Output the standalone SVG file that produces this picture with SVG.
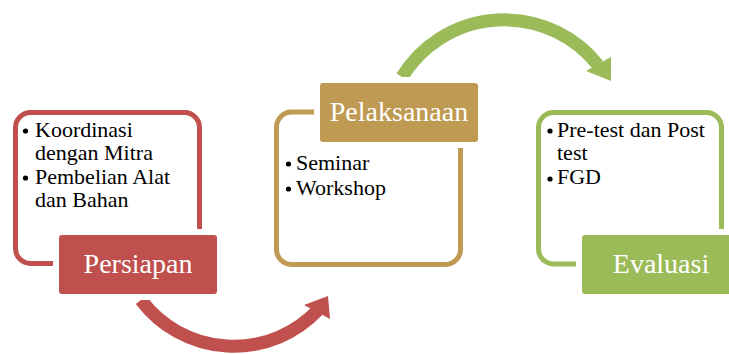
<svg xmlns="http://www.w3.org/2000/svg" width="729" height="354" viewBox="0 0 729 354">
<style>
.frame{fill:none;stroke-width:5}
.mask{fill:#fff}
.lbl{font-family:"Liberation Serif","Times New Roman",serif;font-size:28px;fill:#fff;text-anchor:middle}
.txt{font-family:"Liberation Serif","Times New Roman",serif;font-size:22px;fill:#000}
.arc{fill:none;stroke-width:13}
</style>
<rect width="729" height="354" fill="#fff"/>
<g id="connectors">
<path class="arc" stroke="#C0504D" d="M141,300 A116 116 0 0 0 318,310"/>
<polygon fill="#C0504D" points="304,305 328,296 330,319"/>
<path class="arc" stroke="#9BBB59" d="M402,77 A120 120 0 0 1 598,65"/>
<polygon fill="#9BBB59" points="586,71 611,57 611,81"/>
</g>
<g id="persiapan">
<rect class="frame" stroke="#C0504D" x="15.5" y="112.5" width="184" height="151" rx="15"/>
<circle cx="25.5" cy="131" r="2.6" fill="#000"/>
<circle cx="25.5" cy="178" r="2.6" fill="#000"/>
<text class="txt" x="35" y="137">Koordinasi</text>
<text class="txt" x="35" y="160">dengan Mitra</text>
<text class="txt" x="35" y="184">Pembelian Alat</text>
<text class="txt" x="35" y="207">dan Bahan</text>
<rect class="mask" x="53" y="229" width="170" height="71" rx="4"/>
<rect fill="#C0504D" x="59" y="235" width="158" height="59" rx="3"/>
<text class="lbl" x="138" y="273">Persiapan</text>
</g>
<g id="pelaksanaan">
<rect class="frame" stroke="#BF9A52" x="276.5" y="112" width="184" height="152.5" rx="15"/>
<circle cx="288.5" cy="164" r="2.6" fill="#000"/>
<circle cx="288.5" cy="189" r="2.6" fill="#000"/>
<text class="txt" x="296" y="170">Seminar</text>
<text class="txt" x="296" y="195">Workshop</text>
<rect class="mask" x="314" y="77" width="170" height="71" rx="4"/>
<rect fill="#BF9A52" x="320" y="83" width="158" height="59" rx="3"/>
<text class="lbl" x="399" y="121">Pelaksanaan</text>
</g>
<g id="evaluasi">
<rect class="frame" stroke="#9BBB59" x="538.5" y="112.5" width="183" height="151.5" rx="15"/>
<circle cx="550" cy="131" r="2.6" fill="#000"/>
<circle cx="550" cy="179" r="2.6" fill="#000"/>
<text class="txt" x="557" y="136.5">Pre-test dan Post</text>
<text class="txt" x="557" y="159.5">test</text>
<text class="txt" x="557" y="184">FGD</text>
<rect class="mask" x="576" y="229" width="170" height="71" rx="4"/>
<rect fill="#9BBB59" x="582" y="235" width="158" height="59" rx="3"/>
<text class="lbl" x="661" y="273">Evaluasi</text>
</g>
</svg>
